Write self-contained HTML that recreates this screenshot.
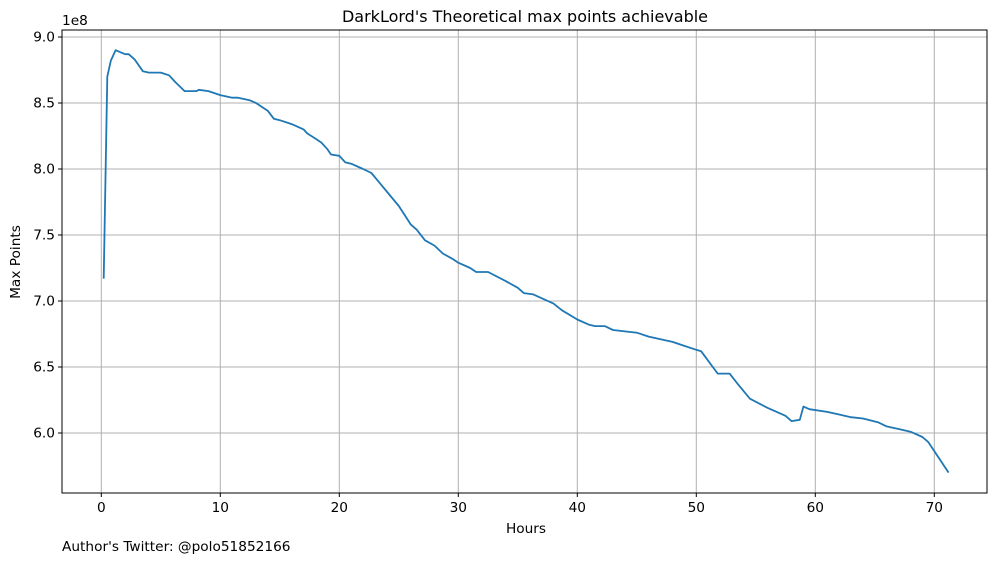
<!DOCTYPE html>
<html><head><meta charset="utf-8"><style>
html,body{margin:0;padding:0;background:#fff;}
svg text{font-family:"DejaVu Sans","Liberation Sans",sans-serif;fill:#000;}
</style></head><body>
<svg id="chart" width="1001" height="562" xmlns="http://www.w3.org/2000/svg">
<g id="grid"></g>
<g id="axes"></g>
<path id="line" fill="none" stroke="#1f77b4" stroke-width="1.8" stroke-linejoin="round"/>
<rect x="62" y="30" width="925" height="463" fill="none" stroke="#000" stroke-width="1"/>
<text x="525" y="22" font-size="16" text-anchor="middle">DarkLord's Theoretical max points achievable</text>
<text x="526" y="533" font-size="13.7" text-anchor="middle">Hours</text>
<text x="20" y="262" font-size="13.7" text-anchor="middle" transform="rotate(-90 20 262)">Max Points</text>
<text x="62" y="25" font-size="13.7">1e8</text>
<text x="62" y="551" font-size="13.7">Author's Twitter: @polo51852166</text>
</svg>
<script>
const hours=[0.2,0.5,0.8,1.2,2.0,2.3,2.8,3.5,4,5,5.7,6.2,7,8,8.2,9,10,11,11.5,12.5,13,14,14.5,15,16,17,17.3,18,18.5,19,19.3,20,20.5,21,22,22.7,25,26,26.5,27.2,28,28.7,29.5,30,31,31.5,32.5,34,35,35.5,36.3,38,38.7,40,41,41.5,42.3,43,44,45,46,47,48,49,50,50.4,51.8,52.8,53.5,54.5,56,57,57.5,58,58.7,59,59.5,61,62,63,64,65.3,66,67,68,69,69.5,71.2];
const maxPoints=[7.17,8.7,8.82,8.9,8.87,8.87,8.83,8.74,8.73,8.73,8.71,8.66,8.59,8.59,8.6,8.59,8.56,8.54,8.54,8.52,8.5,8.44,8.38,8.37,8.34,8.3,8.27,8.23,8.2,8.15,8.11,8.1,8.05,8.04,8.0,7.97,7.72,7.58,7.54,7.46,7.42,7.36,7.32,7.29,7.25,7.22,7.22,7.15,7.1,7.06,7.05,6.98,6.93,6.86,6.82,6.81,6.81,6.78,6.77,6.76,6.73,6.71,6.69,6.66,6.63,6.62,6.45,6.45,6.37,6.26,6.19,6.15,6.13,6.09,6.1,6.2,6.18,6.16,6.14,6.12,6.11,6.08,6.05,6.03,6.01,5.97,5.93,5.7];
const xTicks=[0,10,20,30,40,50,60,70];
const yTicks=[6.0,6.5,7.0,7.5,8.0,8.5,9.0];
const X=h=>101.3+h*11.9;
const Y=v=>37+(9.0-v)*132;
const NS="http://www.w3.org/2000/svg";
const grid=document.getElementById('grid'),axes=document.getElementById('axes');
function mk(tag,attrs,parent,txt){const e=document.createElementNS(NS,tag);for(const k in attrs)e.setAttribute(k,attrs[k]);if(txt!==undefined)e.textContent=txt;parent.appendChild(e);return e;}
xTicks.forEach(t=>{const x=X(t);
 const g=mk('line',{x1:x,x2:x,y1:30,y2:493,stroke:'#b0b0b0','stroke-width':1},grid);
 
 
 const tk=mk('line',{x1:x,x2:x,y1:493,y2:497,stroke:'#000'},axes);
 
 
 const l=mk('text',{x:x,y:512,'font-size':13.7,'text-anchor':'middle'},axes,String(t));
 
 
});
yTicks.forEach(t=>{const y=Y(t);
 const g=mk('line',{x1:62,x2:987,y1:y,y2:y,stroke:'#b0b0b0','stroke-width':1},grid);
 
 
 const tk=mk('line',{x1:58,x2:62,y1:y,y2:y,stroke:'#000'},axes);
 
 
 const l=mk('text',{x:55,y:y+4.5,'font-size':13.7,'text-anchor':'end'},axes,t.toFixed(1));
 
 
});
document.getElementById('line').setAttribute('d',hours.map((h,i)=>(i?'L':'M')+X(h).toFixed(1)+','+Y(maxPoints[i]).toFixed(1)).join(''));
</script>
</body></html>
